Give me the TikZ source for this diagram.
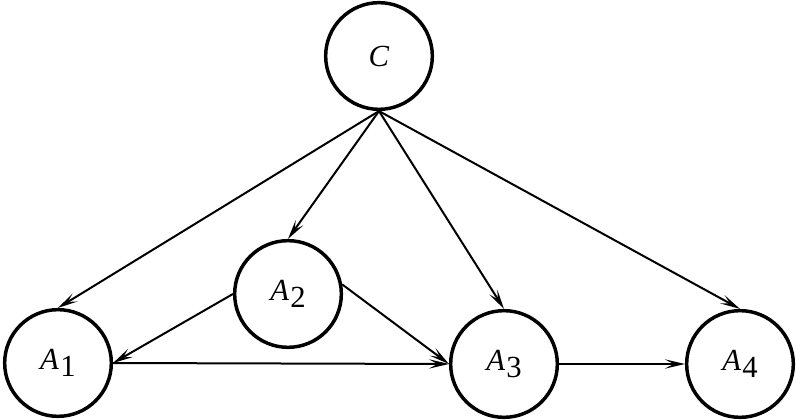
\documentclass[tikz,border=0pt]{standalone}
\usepackage{fontspec}
\setmainfont{Liberation Serif}
\usetikzlibrary{arrows.meta}
\newcommand{\lbl}[2]{\textit{#1}\kern1pt\raisebox{-0.45ex}{#2}}
\newcommand{\bigf}{\fontsize{23}{27}\selectfont}
\begin{document}
\begin{tikzpicture}[x=0.75pt,y=-0.75pt,
  vtx/.style={circle,draw,line width=2.6pt,minimum size=80pt,inner sep=0pt,
    font=\bigf},
  edge/.style={line width=1.5pt,-{Stealth[length=15pt,width=7pt,inset=6.5pt]}}]
\useasboundingbox (0,0) rectangle (796,420);
\node[vtx] (C)  at (379,56)  {\bigf\textit{C}};
\node[vtx] (A2) at (288,294) {\bigf\lbl{A}{2}};
\node[vtx] (A1) at (58,363)  {\bigf\lbl{A}{1}};
\node[vtx] (A3) at (504,364) {\bigf\lbl{A}{3}};
\node[vtx] (A4) at (740,364) {\bigf\lbl{A}{4}};
\draw[edge] (C.south) -- (A1.north);
\draw[edge] (C.south) -- (A2.north);
\draw[edge] (C.south) -- (A3.north);
\draw[edge] (C.south) -- (A4.north);
\draw[edge] (A2.west) -- (A1.east);
\draw[edge] (A2.10) -- (A3.west);
\draw[edge] (A1.east) -- (A3.west);
\draw[edge] (A3.east) -- (A4.west);
\end{tikzpicture}
\end{document}
